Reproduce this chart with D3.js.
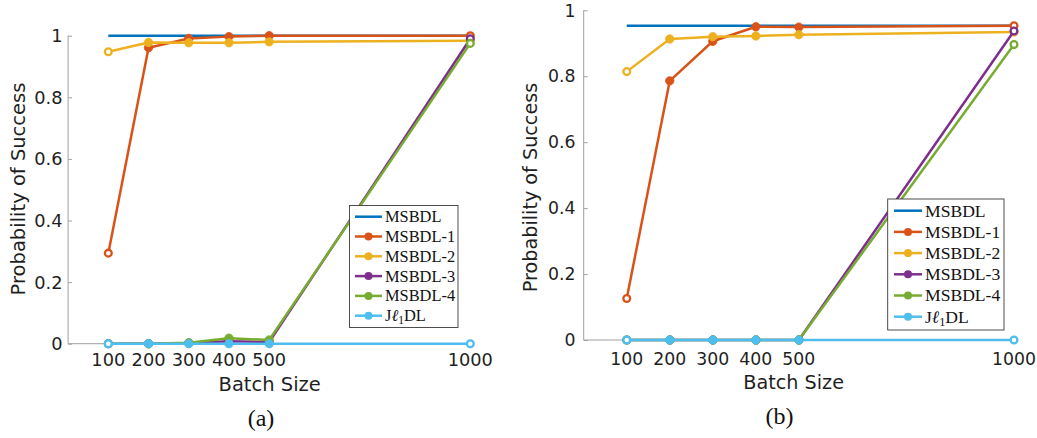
<!DOCTYPE html>
<html>
<head>
<meta charset="utf-8">
<script src="https://cdn.jsdelivr.net/npm/d3@7"></script>
<style>
html,body{margin:0;padding:0;background:#fff;}
svg{display:block;}
</style>
</head>
<body>
<svg id="chart" width="1037" height="438"></svg>
<script>
// ---------- data ----------
const batchSizes = [100, 200, 300, 400, 500, 1000];
const yTicks = [0, 0.2, 0.4, 0.6, 0.8, 1];
const yTickLabels = ["0", "0.2", "0.4", "0.6", "0.8", "1"];
const xTickLabels = ["100", "200", "300", "400", "500", "1000"];
const seriesNames = ["MSBDL", "MSBDL-1", "MSBDL-2", "MSBDL-3", "MSBDL-4", "Jℓ1DL"];
const seriesColors = ["#0072BD", "#D95319", "#EDB120", "#7E2F8E", "#77AC30", "#4DBEEE"];
const captions = ["(a)", "(b)"];

// panel (a)
const msbdlA  = [1.000, 1.000, 1.000, 1.000, 1.000, 1.000];
const msbdl1A = [0.294, 0.961, 0.991, 0.997, 1.000, 1.000];
const msbdl2A = [0.948, 0.978, 0.977, 0.977, 0.980, 0.984];
const msbdl3A = [0.000, 0.000, 0.002, 0.008, 0.005, 0.990];
const msbdl4A = [0.000, 0.000, 0.003, 0.018, 0.012, 0.975];
const jl1dlA  = [0.000, 0.000, 0.000, 0.000, 0.000, 0.000];

// panel (b)
const msbdlB  = [0.953, 0.953, 0.953, 0.953, 0.953, 0.953];
const msbdl1B = [0.126, 0.786, 0.906, 0.950, 0.949, 0.953];
const msbdl2B = [0.814, 0.913, 0.920, 0.922, 0.926, 0.934];
const msbdl3B = [0.000, 0.000, 0.000, 0.000, 0.000, 0.937];
const msbdl4B = [0.000, 0.000, 0.000, 0.000, 0.000, 0.896];
const jl1dlB  = [0.000, 0.000, 0.000, 0.000, 0.000, 0.000];

const seriesA = [msbdlA, msbdl1A, msbdl2A, msbdl3A, msbdl4A, jl1dlA];
const seriesB = [msbdlB, msbdl1B, msbdl2B, msbdl3B, msbdl4B, jl1dlB];

// ---------- layout ----------
const panels = [
  { series: seriesA, xr: [68.1, 470.3], yr: [343.7, 35.7], tickSize: 17.8, labelSize: 19.5,
    yTickX: 62.5, xTickY: 366, xLabel: { x: 269.7, y: 390.5 }, yLabel: { x: 24.5, y: 189 },
    legend: { x: 349.5, y: 205.5, w: 108.5, h: 122, row0: 216.7, dy: 19.8, lx0: 355, lx1: 382, tx: 385, fs: 16.4 },
    caption: { x: 261, y: 426 } },
  { series: seriesB, xr: [583.7, 1014], yr: [340, 10.3], tickSize: 17.3, labelSize: 19.2,
    yTickX: 575.5, xTickY: 364.5, xLabel: { x: 793.7, y: 389 }, yLabel: { x: 537, y: 187.5 },
    legend: { x: 887.7, y: 199, w: 116.3, h: 131, row0: 210.7, dy: 21.2, lx0: 894, lx1: 922, tx: 925, fs: 17.6 },
    caption: { x: 779.5, y: 424 } }
];

const svg = d3.select("#chart");
const sansFont = "'DejaVu Sans', sans-serif";
const serifFont = "'Liberation Serif', 'DejaVu Serif', serif";
const textColor = "#1f1f1f";

panels.forEach((p, pi) => {
  const x = d3.scaleLinear().domain([0, 1000]).range(p.xr);
  const y = d3.scaleLinear().domain([0, 1]).range(p.yr);
  const g = svg.append("g");

  // y axis (ticks inward)
  const yAxis = d3.axisRight(y).tickValues(yTicks).tickSize(4).tickFormat("");
  const ya = g.append("g").attr("transform", `translate(${p.xr[0]},0)`).call(yAxis);
  ya.select(".domain").attr("stroke", "#a0a0a0").attr("d", `M0,${p.yr[0]}V${p.yr[1]}`);
  ya.selectAll(".tick line").attr("stroke", "#a0a0a0");

  // x axis (ticks inward)
  const xAxis = d3.axisTop(x).tickValues(batchSizes).tickSize(4).tickFormat("");
  const xa = g.append("g").attr("transform", `translate(0,${p.yr[0]})`).call(xAxis);
  xa.select(".domain").attr("stroke", "#a0a0a0").attr("d", `M${p.xr[0]},0H${p.xr[1]}`);
  xa.selectAll(".tick line").attr("stroke", "#a0a0a0");

  // tick labels
  g.selectAll(".ytl").data(yTicks).enter().append("text")
    .attr("x", p.yTickX).attr("y", d => y(d)).attr("dy", "0.36em")
    .attr("text-anchor", "end").attr("font-family", sansFont).attr("font-size", p.tickSize)
    .attr("fill", textColor).text((d, i) => yTickLabels[i]);
  g.selectAll(".xtl").data(batchSizes).enter().append("text")
    .attr("x", d => x(d)).attr("y", p.xTickY)
    .attr("text-anchor", "middle").attr("font-family", sansFont).attr("font-size", p.tickSize)
    .attr("fill", textColor).text((d, i) => xTickLabels[i]);

  // axis labels
  g.append("text").attr("x", p.xLabel.x).attr("y", p.xLabel.y).attr("text-anchor", "middle")
    .attr("font-family", sansFont).attr("font-size", p.labelSize).attr("fill", textColor).text("Batch Size");
  g.append("text").attr("transform", `translate(${p.yLabel.x},${p.yLabel.y}) rotate(-90)`)
    .attr("text-anchor", "middle").attr("font-family", sansFont).attr("font-size", p.labelSize)
    .attr("fill", textColor).text("Probability of Success");

  // lines
  const line = d3.line().x((d, i) => x(batchSizes[i])).y(d => y(d));
  p.series.forEach((vals, si) => {
    const sg = g.append("g");
    sg.append("path").datum(vals).attr("d", line).attr("fill", "none")
      .attr("stroke", seriesColors[si]).attr("stroke-width", 2.5)
      .attr("stroke-linejoin", "round");
    if (si > 0) {
      const last = vals.length - 1;
      sg.selectAll("circle").data(vals).enter().append("circle")
        .attr("cx", (d, i) => x(batchSizes[i])).attr("cy", d => y(d))
        .attr("r", (d, i) => (i === 0 || i === last) ? 3.4 : 4.2)
        .attr("fill", (d, i) => (i === 0 || i === last) ? "#fff" : seriesColors[si])
        .attr("stroke", seriesColors[si]).attr("stroke-width", (d, i) => (i === 0 || i === last) ? 2.3 : 0.8);
    }
  });

  // legend
  const L = p.legend;
  const lg = g.append("g");
  lg.append("rect").attr("x", L.x).attr("y", L.y).attr("width", L.w).attr("height", L.h)
    .attr("fill", "#fff").attr("stroke", "#3a3a3a").attr("stroke-width", 0.9);
  seriesNames.forEach((name, si) => {
    const ry = L.row0 + si * L.dy;
    lg.append("line").attr("x1", L.lx0).attr("x2", L.lx1).attr("y1", ry).attr("y2", ry)
      .attr("stroke", seriesColors[si]).attr("stroke-width", 2.5);
    if (si > 0) {
      lg.append("circle").attr("cx", (L.lx0 + L.lx1) / 2).attr("cy", ry).attr("r", 4)
        .attr("fill", seriesColors[si]);
    }
    const t = lg.append("text").attr("x", L.tx).attr("y", ry).attr("dy", "0.34em")
      .attr("font-family", serifFont).attr("font-size", L.fs).attr("fill", "#111");
    if (name === "Jℓ1DL") {
      t.append("tspan").text("J");
      t.append("tspan").attr("font-style", "italic").text("ℓ");
      t.append("tspan").attr("font-size", L.fs * 0.7).attr("dy", "0.25em").text("1");
      t.append("tspan").attr("dy", "-0.18em").text("DL");
    } else {
      t.text(name);
    }
  });

  // caption
  g.append("text").attr("x", p.caption.x).attr("y", p.caption.y).attr("text-anchor", "middle")
    .attr("font-family", serifFont).attr("font-size", 24).attr("fill", "#111").text(captions[pi]);
});
</script>
</body>
</html>
